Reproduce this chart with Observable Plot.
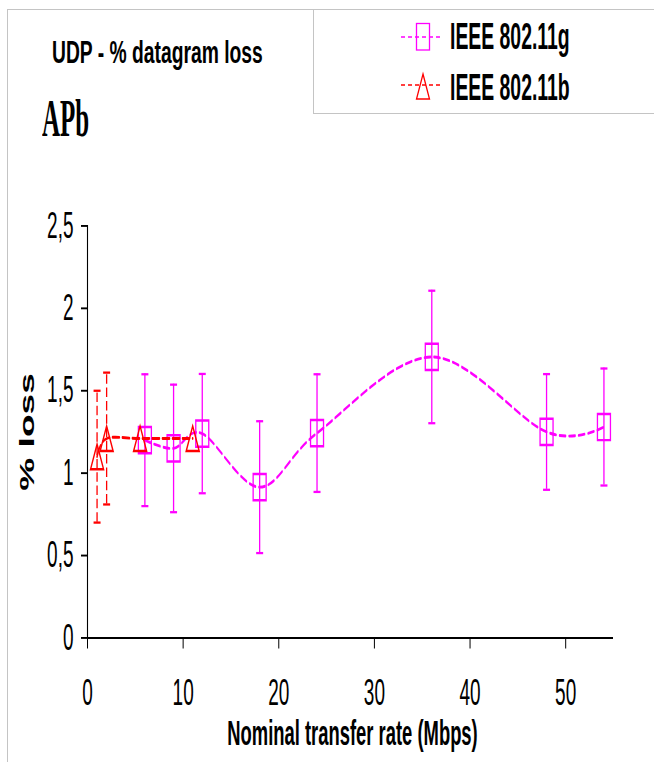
<!DOCTYPE html>
<html>
<head>
<meta charset="utf-8">
<script src="https://cdn.jsdelivr.net/npm/d3@7"></script>
<script src="https://cdn.jsdelivr.net/npm/@observablehq/plot@0.6"></script>
<style>
  body { margin: 0; background: #fff; }
  #wrap { position: relative; width: 654px; height: 762px; overflow: hidden;
          font-family: "Liberation Sans", Arial, sans-serif; color: #000; }
  .frame { position: absolute; left: 7px; top: 9px; width: 700px; height: 800px;
           border-top: 1px solid #c4c4c4; border-left: 1px solid #c4c4c4;
           pointer-events: none; z-index: 3; }
  .title { position: absolute; left: 52px; top: 38px; font-weight: bold; font-size: 19.3px;
           line-height: 1; white-space: nowrap; transform: scaleY(1.59); transform-origin: 0 0; }
  .apb { position: absolute; left: 42px; top: 90.7px; font-family: "Liberation Serif", "Times New Roman", serif;
         font-weight: bold; font-size: 25px; line-height: 1; white-space: nowrap;
         transform: scaleY(2.12); transform-origin: 0 0; }
  .legend { position: absolute; left: 313px; top: 9px; width: 400px; height: 103px;
            border: 1px solid #c4c4c4; background: #fff; z-index: 2; }
  .ltext { position: absolute; left: 450px; font-weight: bold; font-size: 19.4px; line-height: 1;
           white-space: nowrap; transform: scaleY(1.87); transform-origin: 0 0; z-index: 4; }
  .lsw { position: absolute; left: 398px; top: 15px; z-index: 4; }
  #chart { position: absolute; left: 0; top: 150px; width: 654px; height: 612px; z-index: 1; }
</style>
</head>
<body>
<div id="wrap">
  <div class="title">UDP - % datagram loss</div>
  <div class="apb">APb</div>
  <div class="legend"></div>
  <svg class="lsw" width="50" height="95" viewBox="0 0 50 95">
    <line x1="3" y1="22" x2="45" y2="22" stroke="#ff00ff" stroke-width="1.6" stroke-dasharray="4,3"/>
    <rect x="18.5" y="8.5" width="13" height="26.5" fill="none" stroke="#ff00ff" stroke-width="1.3"/>
    <line x1="3" y1="70" x2="45" y2="70" stroke="#ff0000" stroke-width="1.6" stroke-dasharray="4,3"/>
    <path d="M25,59 L31.5,84 L18.5,84 Z" fill="none" stroke="#ff0000" stroke-width="1.3"/>
  </svg>
  <div class="ltext" style="top:19.3px">IEEE 802.11g</div>
  <div class="ltext" style="top:70.3px">IEEE 802.11b</div>
  <div id="chart"></div>
  <div class="frame"></div>
</div>
<script>
// ---- data ----
const gRate = [6, 9, 12, 18, 24, 36, 48, 54];
const gLoss = [1.20, 1.15, 1.24, 0.915, 1.243, 1.705, 1.25, 1.28];
const gErr  = [0.40, 0.387, 0.362, 0.40, 0.357, 0.402, 0.351, 0.355];

const bRate = [1, 2, 5.5, 11];
const bLoss = [1.10, 1.21, 1.21, 1.21];
const bErr  = [0.40, 0.40, null, null];

const xTicks = [0, 10, 20, 30, 40, 50];
const yTicks = [0, 0.5, 1, 1.5, 2, 2.5];

const seriesG = "IEEE 802.11g";
const seriesB = "IEEE 802.11b";
const xLabel = "Nominal transfer rate (Mbps)";
const yLabel = "% loss";

// ---- build tables ----
const g = gRate.map((x, i) => ({rate: x, loss: gLoss[i], err: gErr[i]}));
const b = bRate.map((x, i) => ({rate: x, loss: bLoss[i], err: bErr[i]}));
const bE = b.filter(d => d.err != null);

// ---- layout: the chart is vertically stretched like the original ----
const finalH = 612;
const H0 = 322;
const s = finalH / H0;
const MAG = "#ff00ff", RED = "#ff0000";

const squareSym = {draw(ctx) { ctx.rect(-6.5, -6.9, 13, 13.8); }};
const triSym = {draw(ctx) { ctx.moveTo(0, -6.6); ctx.lineTo(6.5, 6.6); ctx.lineTo(-6.5, 6.6); ctx.closePath(); }};
const capSym = {draw(ctx) { ctx.moveTo(-3.5, 0); ctx.lineTo(3.5, 0); }};

const svg = Plot.plot({
  width: 654,
  height: H0,
  marginLeft: 87,
  marginRight: 41,
  marginTop: (225 - 150) / s,
  marginBottom: H0 - (637 - 150) / s,
  style: {fontFamily: "'Liberation Sans', Arial, sans-serif", fontSize: "19px", color: "#000", background: "transparent", overflow: "visible"},
  x: {domain: [0, 55], ticks: xTicks, tickSize: 6, tickPadding: 15.7, label: null},
  y: {domain: [0, 2.5], ticks: yTicks, tickSize: 6, tickPadding: 8, label: null,
      tickFormat: d => String(d).replace(".", ",")},
  marks: [
    Plot.ruleY([0], {stroke: "#000", strokeWidth: 1.1}),
    Plot.ruleX([0], {stroke: "#000", strokeWidth: 1.1}),
    // 802.11g
    Plot.ruleX(g, {x: "rate", y1: d => d.loss - d.err, y2: d => d.loss + d.err, stroke: MAG, strokeWidth: 1.3}),
    Plot.dot(g, {x: "rate", y: d => d.loss + d.err, symbol: capSym, stroke: MAG, fill: "none", strokeWidth: 1.2}),
    Plot.dot(g, {x: "rate", y: d => d.loss - d.err, symbol: capSym, stroke: MAG, fill: "none", strokeWidth: 1.2}),
    Plot.line(g, {x: "rate", y: "loss", curve: "cardinal", stroke: MAG, strokeWidth: 1.5, strokeDasharray: "6,3.5"}),
    Plot.dot(g, {x: "rate", y: "loss", symbol: squareSym, stroke: MAG, fill: "none", strokeWidth: 1.3}),
    // 802.11b
    Plot.ruleX(bE, {x: "rate", y1: d => d.loss - d.err, y2: d => d.loss + d.err, stroke: RED, strokeWidth: 1.3, strokeDasharray: "5,2"}),
    Plot.dot(bE, {x: "rate", y: d => d.loss + d.err, symbol: capSym, stroke: RED, fill: "none", strokeWidth: 1.2}),
    Plot.dot(bE, {x: "rate", y: d => d.loss - d.err, symbol: capSym, stroke: RED, fill: "none", strokeWidth: 1.2}),
    Plot.line(b, {x: "rate", y: "loss", curve: "cardinal", stroke: RED, strokeWidth: 1.5, strokeDasharray: "7,3"}),
    Plot.dot(b, {x: "rate", y: "loss", symbol: triSym, stroke: RED, fill: "none", strokeWidth: 1.3}),
    // axis titles
    Plot.text([yLabel], {frameAnchor: "left", rotate: -90, dx: -60, text: d => d, fontWeight: "bold", fontSize: 19.5, textAnchor: "middle", lineAnchor: "middle"}),
    Plot.text([xLabel], {frameAnchor: "bottom", dx: 2, dy: 50.5, text: d => d, fontWeight: "bold", fontSize: 18.4, textAnchor: "middle", lineAnchor: "middle"})
  ]
});
svg.setAttribute("preserveAspectRatio", "none");
svg.setAttribute("height", finalH);
svg.style.height = finalH + "px";
svg.style.width = "654px";
svg.style.maxWidth = "none";
document.getElementById("chart").appendChild(svg);
</script>
</body>
</html>
